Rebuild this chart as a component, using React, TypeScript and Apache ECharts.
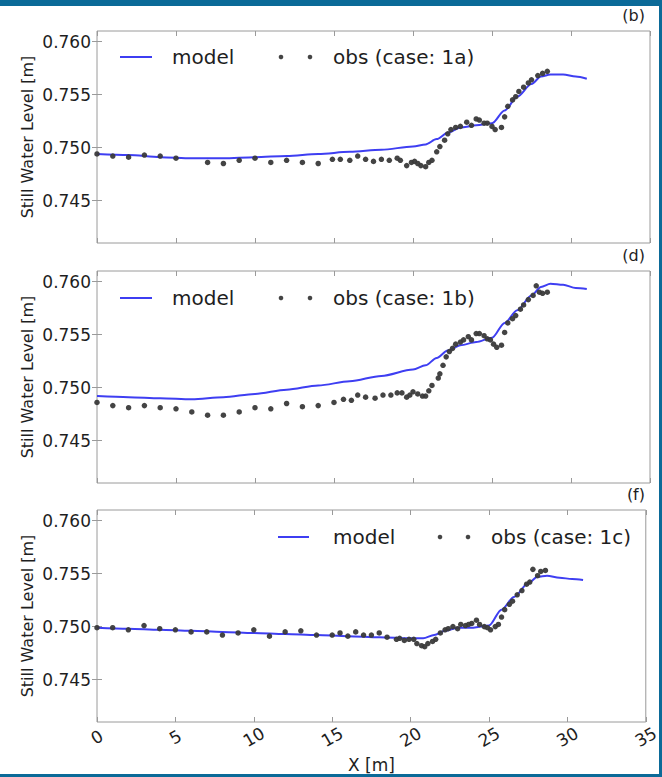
import React, { useEffect, useRef } from 'react';
import * as echarts from 'echarts';

// ---------- data ----------
const yTickValues = [0.745, 0.75, 0.755, 0.76];
const panelLabels = ['(b)', '(d)', '(f)'];
const obsLabels = ['obs (case: 1a)', 'obs (case: 1b)', 'obs (case: 1c)'];

const modelX = [0, 2, 4, 6, 8, 10, 12, 14, 16, 18, 20, 20.8, 21.5, 22.2, 23, 24, 25, 25.8, 26.6, 27.5, 28.1, 28.7, 29.5, 30.3, 31];
const model1a = [0.7494, 0.7493, 0.7491, 0.749, 0.749, 0.7491, 0.7492, 0.7494, 0.7496, 0.7498, 0.7501, 0.7503, 0.7508, 0.7514, 0.7519, 0.7521, 0.7523, 0.7535, 0.7548, 0.756, 0.7567, 0.7569, 0.7569, 0.7567, 0.7565];
const model1b = [0.7492, 0.7491, 0.749, 0.7489, 0.7491, 0.7494, 0.7498, 0.7502, 0.7506, 0.7511, 0.7517, 0.7521, 0.7528, 0.7535, 0.754, 0.7543, 0.7547, 0.7561, 0.7573, 0.7587, 0.7595, 0.7598, 0.7597, 0.7594, 0.7593];
const model1c = [0.7499, 0.7498, 0.7497, 0.7496, 0.7495, 0.7494, 0.7493, 0.7492, 0.7491, 0.749, 0.7489, 0.7489, 0.7492, 0.7496, 0.7499, 0.7499, 0.7501, 0.7516, 0.7528, 0.7541, 0.7547, 0.7548, 0.7546, 0.7545, 0.7544];

const obsX1a = [0, 1, 2, 3, 4, 5, 7, 8, 9, 10, 11, 12, 13, 14,
  14.9, 15.4, 16.0, 16.5, 17.0, 17.5, 18.0, 18.5, 19.0, 19.2,
  19.6, 19.9, 20.1, 20.3, 20.5, 20.8, 21.0, 21.2, 21.5, 21.7,
  22.0, 22.2, 22.4, 22.7, 23.0, 23.4, 23.7, 24.0, 24.2, 24.5,
  24.7, 25.0, 25.2, 25.6, 25.8, 26.0, 26.3, 26.5, 26.7, 27.0,
  27.3, 27.5, 27.9, 28.2, 28.5];
const obs1a = [0.7494, 0.7492, 0.7491, 0.7493, 0.7492, 0.749, 0.7486, 0.7485, 0.7488, 0.749, 0.7486, 0.7488, 0.7486, 0.7485,
  0.7489, 0.7489, 0.7488, 0.7492, 0.7489, 0.7487, 0.7489, 0.7488, 0.749, 0.7488,
  0.7483, 0.7486, 0.7487, 0.7485, 0.7483, 0.7482, 0.7486, 0.7488, 0.7496, 0.7501,
  0.7507, 0.7513, 0.7517, 0.7519, 0.752, 0.7524, 0.7521, 0.7527, 0.7526, 0.7523,
  0.7523, 0.752, 0.7517, 0.7519, 0.7529, 0.7539, 0.7545, 0.7548, 0.7553, 0.7557,
  0.7561, 0.7564, 0.7568, 0.757, 0.7572];

const obsX1b = [0, 1, 2, 3, 4, 5, 6, 7, 8, 9, 10, 11, 12, 13, 14,
  15.0, 15.6, 16.1, 16.5, 17.0, 17.6, 18.1, 18.6, 19.0, 19.3,
  19.6, 19.8, 20.0, 20.3, 20.6, 20.8, 21.0, 21.2, 21.6, 21.7,
  21.9, 22.1, 22.3, 22.5, 22.7, 23.0, 23.2, 23.5, 23.7, 24.0,
  24.2, 24.5, 24.7, 24.9, 25.1, 25.3, 25.6, 25.8, 26.0, 26.3,
  26.5, 26.8, 27.0, 27.3, 27.6, 27.8, 28.0, 28.2, 28.5];
const obs1b = [0.7486, 0.7483, 0.7481, 0.7483, 0.7481, 0.748, 0.7477, 0.7474, 0.7474, 0.7477, 0.7481, 0.748, 0.7485, 0.7482, 0.7483,
  0.7486, 0.7489, 0.7488, 0.7493, 0.7491, 0.749, 0.7493, 0.7493, 0.7495, 0.7495,
  0.7491, 0.7493, 0.7496, 0.7494, 0.7492, 0.7492, 0.7497, 0.7502, 0.7509, 0.7513,
  0.7521, 0.7529, 0.7534, 0.7537, 0.7541, 0.7543, 0.7545, 0.7548, 0.7545, 0.7551,
  0.7551, 0.7549, 0.7546, 0.7545, 0.7541, 0.7538, 0.754, 0.7552, 0.7561, 0.7565,
  0.7568, 0.7574, 0.7578, 0.7583, 0.7587, 0.7596, 0.759, 0.7589, 0.759];

const obsX1c = [0, 1, 2, 3, 4, 5, 6, 7, 8, 9, 10, 11, 12, 13, 14,
  15, 15.5, 16, 16.5, 17, 17.5, 18, 18.5, 19.1, 19.3, 19.6, 19.9, 20.2, 20.4,
  20.7, 20.9, 21.1, 21.4, 21.6, 21.9, 22.2, 22.4, 22.7, 23.0,
  23.2, 23.5, 23.7, 23.9, 24.2, 24.4, 24.7, 24.9, 25.1, 25.4,
  25.6, 25.8, 26.0, 26.3, 26.5, 26.8, 27.1, 27.4, 27.6, 27.8,
  28.1, 28.3, 28.6];
const obs1c = [0.7499, 0.7499, 0.7497, 0.7501, 0.7498, 0.7497, 0.7495, 0.7495, 0.7492, 0.7494, 0.7497, 0.7491, 0.7495, 0.7496, 0.7492,
  0.7492, 0.7494, 0.7491, 0.7495, 0.7492, 0.7492, 0.7494, 0.749, 0.7488, 0.7489, 0.7487, 0.7488, 0.7488, 0.7484,
  0.7482, 0.7481, 0.7484, 0.7486, 0.7488, 0.7494, 0.7497, 0.7498, 0.75, 0.7498,
  0.7502, 0.7501, 0.7502, 0.7503, 0.7506, 0.7502, 0.75, 0.7499, 0.7497, 0.75,
  0.7502, 0.7509, 0.7516, 0.7521, 0.7524, 0.753, 0.7534, 0.754, 0.7542, 0.7554,
  0.7548, 0.7552, 0.7553];

const models = [model1a, model1b, model1c];
const obsXs = [obsX1a, obsX1b, obsX1c];
const obsYs = [obs1a, obs1b, obs1c];

// ---------- styles ----------
const FONT = 'DejaVu Sans';
const FRAME = '#9a9a9a';
const TEXT = '#1e1e1e';
const LINE = '#3e3ef2';
const DOT = '#3a3a3a';
const BORDER = '#0b6a98';
const tops = [31, 271, 510];
const legendY = [57, 298, 537];

export default function App() {
  const ref = useRef<HTMLDivElement>(null);
  useEffect(() => {
    const chart = echarts.init(ref.current!, null, { renderer: 'svg' });

    const grid: any[] = [];
    const xAxis: any[] = [];
    const yAxis: any[] = [];
    const series: any[] = [];
    const graphic: any[] = [];

    tops.forEach((top, i) => {
      grid.push({ left: 97, top, width: 553, height: 212, show: true, borderColor: FRAME, borderWidth: 1, backgroundColor: 'transparent' });
      const last = i === 2;
      xAxis.push({
        type: 'value', gridIndex: i, min: 0, max: 35, interval: 5, position: 'bottom',
        axisLine: { show: false },
        axisTick: { show: true, inside: true, length: 5, lineStyle: { color: FRAME } },
        splitLine: { show: false },
        axisLabel: {
          show: last, rotate: 30, align: 'center', verticalAlign: 'middle', margin: 15,
          fontSize: 17, fontFamily: FONT, color: TEXT, showMinLabel: true, showMaxLabel: true,
        },
        name: last ? 'X [m]' : '', nameLocation: 'middle', nameGap: 34, nameMoveOverlap: false,
        nameTextStyle: { fontSize: 17, fontFamily: FONT, color: TEXT },
      });
      xAxis.push({
        type: 'value', gridIndex: i, min: 0, max: 35, interval: 5, position: 'top',
        axisLine: { show: false },
        axisTick: { show: true, inside: true, length: 5, lineStyle: { color: FRAME } },
        splitLine: { show: false }, axisLabel: { show: false },
      });
      yAxis.push({
        type: 'value', gridIndex: i, min: 0.741, max: 0.761, position: 'left',
        axisLine: { show: false },
        axisTick: { show: true, inside: true, length: 5, lineStyle: { color: FRAME }, customValues: yTickValues },
        splitLine: { show: false },
        axisLabel: {
          customValues: yTickValues, formatter: (v: number) => v.toFixed(3), margin: 6,
          fontSize: 17, fontFamily: FONT, color: TEXT,
        },
        name: 'Still Water Level [m]', nameLocation: 'middle', nameRotate: 90, nameGap: 62, nameMoveOverlap: false,
        nameTextStyle: { fontSize: 16, fontFamily: FONT, color: TEXT },
      });
      yAxis.push({
        type: 'value', gridIndex: i, min: 0.741, max: 0.761, position: 'right',
        axisLine: { show: false },
        axisTick: { show: true, inside: true, length: 5, lineStyle: { color: FRAME }, customValues: yTickValues },
        splitLine: { show: false }, axisLabel: { show: false },
      });
      series.push({
        type: 'line', name: 'model', xAxisIndex: 2 * i, yAxisIndex: 2 * i,
        data: modelX.map((x, k) => [x, models[i][k]]),
        showSymbol: false, smooth: 0.3, smoothMonotone: 'x',
        lineStyle: { color: LINE, width: 2 }, z: 2,
      });
      series.push({
        type: 'scatter', name: obsLabels[i], xAxisIndex: 2 * i, yAxisIndex: 2 * i,
        data: obsXs[i].map((x, k) => [x, obsYs[i][k]]),
        symbolSize: 5.5, itemStyle: { color: DOT, opacity: 0.95 }, z: 3,
      });

      // legend (drawn as graphics)
      const ly = legendY[i];
      const lx = last ? [278, 309, 333, 440, 468, 491] : [120, 152, 172, 281, 310, 333];
      graphic.push({ type: 'line', shape: { x1: lx[0], y1: ly, x2: lx[1], y2: ly }, style: { stroke: LINE, lineWidth: 2 } });
      graphic.push({ type: 'text', x: lx[2], y: ly, style: { text: 'model', fontSize: 20, fontFamily: FONT, fill: TEXT, align: 'left', verticalAlign: 'middle' } });
      graphic.push({ type: 'circle', shape: { cx: lx[3], cy: ly, r: 2.3 }, style: { fill: '#444' } });
      graphic.push({ type: 'circle', shape: { cx: lx[4], cy: ly, r: 2.3 }, style: { fill: '#444' } });
      graphic.push({ type: 'text', x: lx[5], y: ly, style: { text: obsLabels[i], fontSize: 20, fontFamily: FONT, fill: TEXT, align: 'left', verticalAlign: 'middle' } });
      // panel label
      graphic.push({ type: 'text', x: 645, y: top - 16, style: { text: panelLabels[i], fontSize: 16, fontFamily: FONT, fill: TEXT, align: 'right', verticalAlign: 'middle' } });
    });

    // page frame bars
    graphic.push({ type: 'rect', shape: { x: 0, y: 0, width: 662, height: 6 }, style: { fill: BORDER } });
    graphic.push({ type: 'rect', shape: { x: 0, y: 774, width: 662, height: 3 }, style: { fill: BORDER } });
    graphic.push({ type: 'rect', shape: { x: 659, y: 0, width: 3, height: 777 }, style: { fill: BORDER } });

    chart.setOption({
      animation: false,
      backgroundColor: '#ffffff',
      textStyle: { fontFamily: FONT },
      grid, xAxis, yAxis, series, graphic,
    });
    return () => chart.dispose();
  }, []);
  return <div ref={ref} style={{ position: 'absolute', left: 0, top: 0, width: 662, height: 777 }} />;
}
